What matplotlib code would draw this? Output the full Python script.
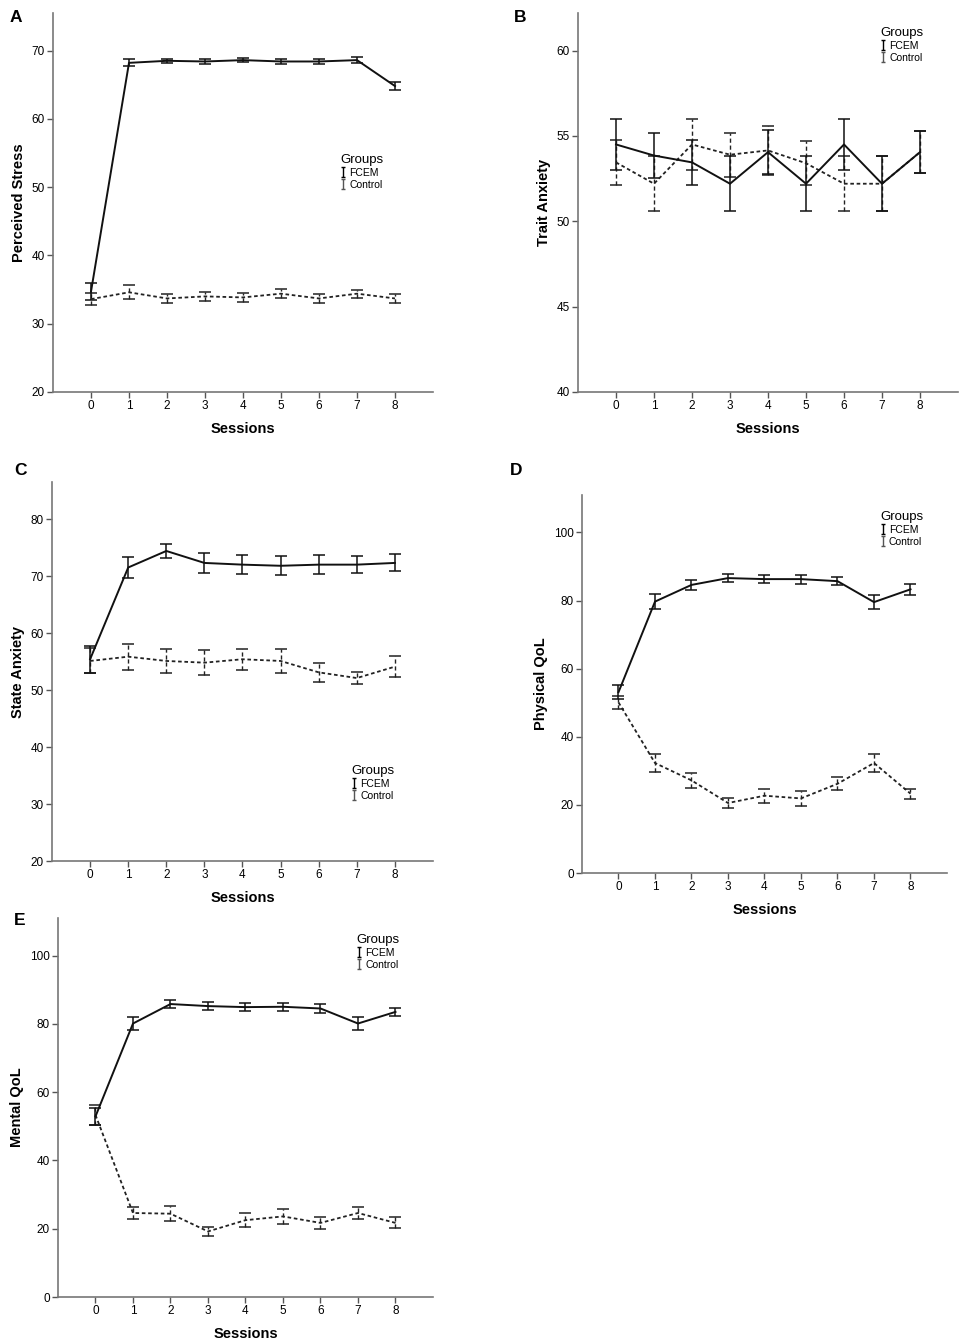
import numpy as np
from matplotlib import pyplot as plt
from matplotlib.lines import Line2D
from matplotlib.path import Path

sessions = np.arange(9)

# A - Perceived Stress
stress_fcem = [34.7, 68.2, 68.5, 68.4, 68.6, 68.4, 68.4, 68.6, 64.8]
stress_fcem_err = [1.2, 0.5, 0.3, 0.4, 0.3, 0.3, 0.4, 0.4, 0.6]
stress_ctrl = [33.6, 34.6, 33.7, 34.0, 33.85, 34.4, 33.7, 34.4, 33.7]
stress_ctrl_err = [0.9, 1.0, 0.6, 0.7, 0.7, 0.7, 0.7, 0.6, 0.7]

# B - Trait Anxiety
trait_fcem = [54.5, 53.85, 53.45, 52.2, 54.05, 52.2, 54.5, 52.2, 54.05]
trait_fcem_err = [1.5, 1.3, 1.3, 1.6, 1.3, 1.6, 1.5, 1.6, 1.25]
trait_ctrl = [53.45, 52.2, 54.5, 53.9, 54.15, 53.4, 52.2, 52.2, 54.05]
trait_ctrl_err = [1.3, 1.6, 1.5, 1.3, 1.45, 1.3, 1.6, 1.6, 1.25]

# C - State Anxiety
state_fcem = [55.4, 71.5, 74.4, 72.3, 72.0, 71.8, 72.0, 72.0, 72.3]
state_fcem_err = [2.4, 1.8, 1.2, 1.7, 1.65, 1.7, 1.7, 1.5, 1.5]
state_ctrl = [55.1, 55.85, 55.1, 54.8, 55.4, 55.1, 53.1, 52.1, 54.1]
state_ctrl_err = [2.2, 2.25, 2.05, 2.2, 1.8, 2.1, 1.65, 1.1, 1.8]

# D - Physical QoL
phys_fcem = [53.1, 79.7, 84.6, 86.6, 86.3, 86.3, 85.7, 79.55, 83.3]
phys_fcem_err = [2.0, 2.1, 1.5, 1.1, 1.2, 1.3, 1.2, 2.1, 1.55]
phys_ctrl = [50.1, 32.3, 27.2, 20.55, 22.7, 21.9, 26.2, 32.3, 23.3]
phys_ctrl_err = [1.9, 2.7, 2.1, 1.4, 2.0, 2.1, 1.95, 2.7, 1.5]

# E - Mental QoL
ment_fcem = [52.9, 80.1, 85.8, 85.2, 84.9, 85.0, 84.5, 80.1, 83.5]
ment_fcem_err = [2.6, 2.0, 1.1, 1.2, 1.2, 1.25, 1.25, 2.0, 1.2]
ment_ctrl = [53.3, 24.6, 24.4, 19.2, 22.5, 23.6, 21.7, 24.6, 21.7]
ment_ctrl_err = [3.0, 1.9, 2.2, 1.4, 2.0, 2.3, 1.85, 1.9, 1.6]

W, H = 962, 1339
fig = plt.figure(figsize=(W / 100, H / 100), dpi=100)
plt.rcParams['font.family'] = ['Liberation Sans', 'DejaVu Sans']

# small "I" shaped error bar glyph for the legend
ibar = Path([(-0.45, 1), (0.45, 1), (0, 1), (0, -1), (-0.45, -1), (0.45, -1)],
            [Path.MOVETO, Path.LINETO, Path.MOVETO, Path.LINETO, Path.MOVETO, Path.LINETO])


def add_axes(left, right, top, bottom):
    return fig.add_axes([left / W, 1 - bottom / H, (right - left) / W, (bottom - top) / H])


panels = [
    ('A', (53, 433, 13, 392), (20, 75.5), [20, 30, 40, 50, 60, 70], 'Perceived Stress',
     (stress_fcem, stress_fcem_err, stress_ctrl, stress_ctrl_err), (0.745, 0.64), (10, 22)),
    ('B', (578, 958, 13, 392), (40, 62.2), [40, 45, 50, 55, 60], 'Trait Anxiety',
     (trait_fcem, trait_fcem_err, trait_ctrl, trait_ctrl_err), (0.785, 0.975), (514, 22)),
    ('C', (52, 433, 482, 861), (20, 86.5), [20, 30, 40, 50, 60, 70, 80], 'State Anxiety',
     (state_fcem, state_fcem_err, state_ctrl, state_ctrl_err), (0.775, 0.265), (14, 475)),
    ('D', (582, 947, 495, 873), (0, 111), [0, 20, 40, 60, 80, 100], 'Physical QoL',
     (phys_fcem, phys_fcem_err, phys_ctrl, phys_ctrl_err), (0.805, 0.97), (510, 475)),
    ('E', (58, 433, 918, 1297), (0, 111), [0, 20, 40, 60, 80, 100], 'Mental QoL',
     (ment_fcem, ment_fcem_err, ment_ctrl, ment_ctrl_err), (0.785, 0.97), (14, 925)),
]

for letter, rect, ylim, yticks, ylabel, data, leg_pos, let_pos in panels:
    ax = add_axes(*rect)
    fcem, fcem_err, ctrl, ctrl_err = data
    eb = ax.errorbar(sessions, ctrl, yerr=ctrl_err, color='#222222', lw=1.3, ls=(0, (2, 1.5)),
                     capsize=4.5, capthick=1.1, elinewidth=1.0)
    eb[-1][0].set_linestyle((0, (3, 2)))
    ax.errorbar(sessions, fcem, yerr=fcem_err, color='#111111', lw=1.4, ls='-',
                capsize=4.5, capthick=1.1, elinewidth=1.1)
    ax.set_xlim(-1, 9)
    ax.set_ylim(*ylim)
    ax.set_xticks(sessions)
    ax.set_yticks(yticks)
    for s in ['top', 'right']:
        ax.spines[s].set_visible(False)
    for s in ['left', 'bottom']:
        ax.spines[s].set_color('#777777')
        ax.spines[s].set_linewidth(1.2)
    ax.tick_params(colors='#555555', labelcolor='black', labelsize=8.5, length=4, width=1, pad=2)
    ax.set_ylabel(ylabel, fontsize=10.5, fontweight='bold', labelpad=4)
    ax.set_xlabel('Sessions', fontsize=10.5, fontweight='bold', labelpad=7)
    handles = [Line2D([], [], marker=ibar, ls='None', color='k', markersize=7,
                      markeredgewidth=1.0, fillstyle='none'),
               Line2D([], [], marker=ibar, ls='None', color='#555555', markersize=7,
                      markeredgewidth=1.0, fillstyle='none')]
    ax.legend(handles, ['FCEM', 'Control'], title='Groups', loc='upper left',
              bbox_to_anchor=leg_pos, frameon=False, fontsize=7.5, title_fontsize=9.5,
              handlelength=0.5, handletextpad=0.35, labelspacing=0.2,
              borderaxespad=0, alignment='left')
    fig.text(let_pos[0] / W, 1 - let_pos[1] / H, letter, fontsize=12.5, fontweight='bold')

fig.savefig('out.png', dpi=100)
